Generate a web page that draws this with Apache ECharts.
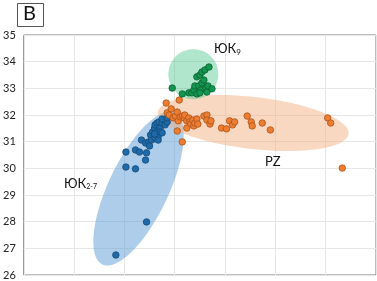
<!DOCTYPE html>
<html>
<head>
<meta charset="utf-8">
<script src="https://cdn.jsdelivr.net/npm/echarts@6/dist/echarts.min.js"></script>
<style>
  html, body { margin: 0; padding: 0; background: #fff; }
  #chart { width: 377px; height: 281px; }
</style>
</head>
<body>
<div id="chart"></div>
<script>
// y ticks
const yTicks = [26, 27, 28, 29, 30, 31, 32, 33, 34, 35]

// ЮК2-7
const blueX = [1.83, 2.44, 2.03, 2.22, 2.30, 2.44, 2.42, 2.03, 2.22, 2.34, 2.42, 2.48, 2.50, 2.52, 2.54, 2.56, 2.60,
  2.61, 2.61, 2.65, 2.65, 2.67, 2.67, 2.69, 2.71, 2.75, 2.79, 2.81, 2.85, 2.71, 2.75, 2.60, 2.85, 2.75]
const blueY = [26.75, 27.99, 30.61, 30.69, 30.61, 30.58, 30.31, 30.05, 29.98, 31.06, 30.95, 30.99, 30.84, 31.25, 31.06,
  31.36, 31.51, 31.63, 31.14, 31.70, 31.36, 31.18, 31.06, 31.74, 31.51, 31.70, 31.81, 31.63, 31.74, 31.36, 31.85,
  31.29, 31.89, 31.33]

// ЮК9
const greenX = [2.95, 3.15, 3.28, 3.34, 3.38, 3.40, 3.44, 3.44, 3.48, 3.50, 3.52, 3.54, 3.54, 3.58, 3.60, 3.62, 3.64,
  3.66, 3.68, 3.74, 3.50]
const greenY = [33.01, 32.79, 32.83, 32.83, 32.94, 33.09, 32.79, 33.43, 33.09, 33.50, 32.94, 33.20, 33.61, 33.31,
  33.69, 33.01, 32.86, 33.09, 33.80, 32.98, 32.83]

// PZ
const orangeX = [2.83, 3.09, 2.85, 2.89, 2.93, 2.97, 3.01, 3.05, 3.07, 3.11, 3.05, 3.15, 3.15, 3.19, 3.20, 3.24, 3.24,
  3.28, 3.30, 3.32, 3.36, 3.38, 3.40, 3.44, 3.46, 3.58, 3.64, 3.64, 3.70, 3.72, 3.93, 4.03, 4.09, 4.15, 4.19, 4.44,
  4.52, 4.54, 4.74, 4.90, 6.04, 6.10, 6.33]
const orangeY = [32.45, 32.56, 32.08, 32.00, 32.23, 31.89, 31.96, 32.11, 31.78, 31.93, 31.40, 30.99, 31.96, 31.89,
  32.00, 31.78, 31.51, 31.89, 31.74, 31.66, 31.81, 31.59, 31.70, 31.85, 31.66, 31.96, 32.00, 31.81, 31.66, 31.78,
  31.51, 31.48, 31.78, 31.63, 31.74, 31.96, 31.74, 31.59, 31.70, 31.44, 31.89, 31.70, 30.01]

// group ellipses: centre in data units
const ellipseX = [2.28, 4.56, 3.37]
const ellipseY = [29.24, 31.70, 33.53]
// radii (px) and tilt (deg, screen)
const ellipseShape = [[84, 30, -64.5], [96, 26, 6.5], [25, 25, 0]]
const ellipseFill = ['rgba(91,155,213,0.5)', 'rgba(244,177,131,0.5)', 'rgba(80,200,140,0.45)']

const zip = (xs, ys) => xs.map((x, i) => [x, ys[i]])

function renderEllipse(params, api) {
  const i = params.dataIndex
  const c = api.coord([api.value(0), api.value(1)])
  const [a, b, deg] = ellipseShape[i]
  const th = deg * Math.PI / 180
  const points = []
  for (let k = 0; k < 90; k++) {
    const t = k / 90 * Math.PI * 2
    points.push([
      c[0] + a * Math.cos(t) * Math.cos(th) - b * Math.sin(t) * Math.sin(th),
      c[1] + a * Math.cos(t) * Math.sin(th) + b * Math.sin(t) * Math.cos(th)
    ])
  }
  return {
    type: 'polygon',
    shape: { points },
    style: { fill: ellipseFill[i] }
  }
}

function dots(name, data, fill, border) {
  return {
    name,
    type: 'scatter',
    data,
    symbolSize: 6.5,
    z: 3,
    itemStyle: { color: fill, borderColor: border, borderWidth: 0.8, opacity: 1 }
  }
}

const chart = echarts.init(document.getElementById('chart'), null, { renderer: 'canvas' })
chart.setOption({
  animation: false,
  textStyle: { fontFamily: 'Lato' },
  grid: {
    left: 20, right: 1, top: 35, bottom: 6,
    show: true, borderColor: '#7a7a7a', borderWidth: 1
  },
  xAxis: {
    type: 'value', min: 0, max: 7, interval: 1,
    axisLine: { show: false }, axisTick: { show: false }, axisLabel: { show: false },
    splitLine: { lineStyle: { color: '#e6e6e6' } }
  },
  yAxis: {
    type: 'value', min: yTicks[0], max: yTicks[yTicks.length - 1], interval: 1,
    axisLine: { show: false }, axisTick: { show: false },
    axisLabel: { color: '#222', fontSize: 11, margin: 8, fontFamily: 'Lato' },
    splitLine: { lineStyle: { color: '#e6e6e6' } }
  },
  series: [
    {
      type: 'custom',
      renderItem: renderEllipse,
      data: zip(ellipseX, ellipseY),
      z: 1,
      silent: true
    },
    dots('ЮК2-7', zip(blueX, blueY), '#1f6aa8', '#154a78'),
    dots('PZ', zip(orangeX, orangeY), '#ed7d31', '#a9541c'),
    dots('ЮК9', zip(greenX, greenY), '#13964f', '#0b5e30')
  ],
  graphic: [
    {
      type: 'rect', left: 17, top: 3, z: 10,
      shape: { width: 26, height: 23 },
      style: { fill: '#fff', stroke: '#555', lineWidth: 1 }
    },
    {
      type: 'text', left: 23, top: 4, z: 11,
      style: { text: 'B', fontSize: 20, fill: '#111', fontFamily: 'Lato' }
    },
    {
      type: 'text', left: 214, top: 42, z: 11,
      style: {
        text: '{a|ЮК}{s|9}',
        rich: {
          a: { fontSize: 13, fill: '#111', fontFamily: 'Lato' },
          s: { fontSize: 8, fill: '#111', padding: [7, 0, 0, 0], fontFamily: 'Lato' }
        }
      }
    },
    {
      type: 'text', left: 64, top: 177, z: 11,
      style: {
        text: '{a|ЮК}{s|2-7}',
        rich: {
          a: { fontSize: 13, fill: '#111', fontFamily: 'Lato' },
          s: { fontSize: 7, fill: '#111', padding: [7, 0, 0, 0], fontFamily: 'Lato' }
        }
      }
    },
    {
      type: 'text', left: 265, top: 155, z: 11,
      style: { text: 'PZ', fontSize: 13, fill: '#111', fontFamily: 'Lato' }
    }
  ]
})
</script>
</body>
</html>
